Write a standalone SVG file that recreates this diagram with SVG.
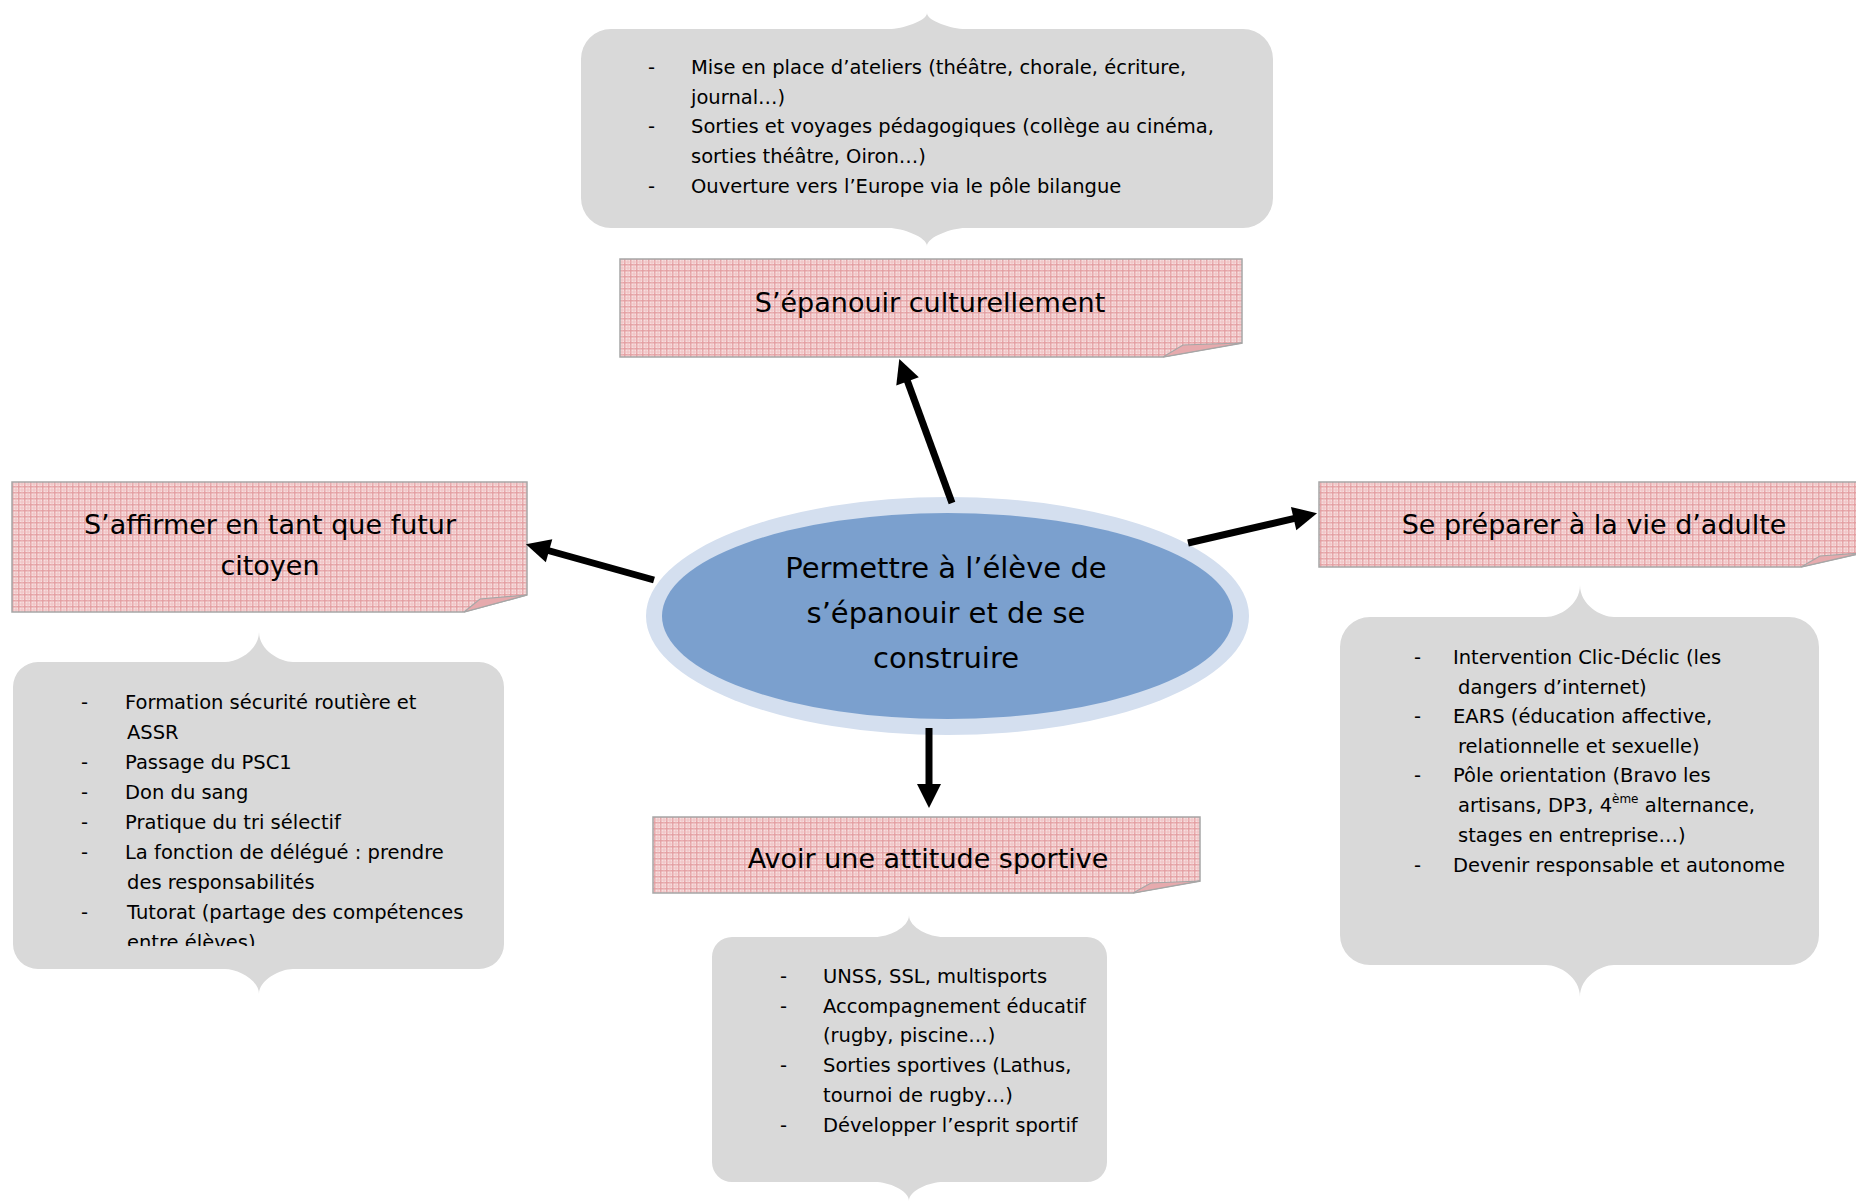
<svg xmlns="http://www.w3.org/2000/svg" width="1856" height="1201" viewBox="0 0 1856 1201">
<style>
.t{font-family:"DejaVu Sans",sans-serif;fill:#000}
.title{font-size:27px;text-anchor:middle}
.ctr{font-size:29px;text-anchor:middle}
.body{font-size:19.5px}
.callout{fill:#d9d9d9}
.note{fill:url(#pk);stroke:#a6a6a6;stroke-width:1.5}
.fold{fill:#e6aaad;stroke:#a6a6a6;stroke-width:1.2}
.conn{stroke:#000;stroke-width:7;fill:none;marker-end:url(#ah)}
</style>
<defs>
<pattern id="pk" width="6" height="6" patternUnits="userSpaceOnUse">
<rect width="6" height="6" fill="#f7dfdf"/>
<rect x="0" y="0" width="1.5" height="6" fill="#e39ca0" opacity="0.85"/>
<rect x="0" y="0" width="6" height="1.5" fill="#e39ca0" opacity="0.85"/>
<rect x="3.5" y="0" width="1" height="6" fill="#edb9bb" opacity="0.8"/>
<rect x="0" y="3.5" width="6" height="1" fill="#edb9bb" opacity="0.8"/>
</pattern>
<marker id="ah" viewBox="0 -12 24 24" markerUnits="userSpaceOnUse" markerWidth="24" markerHeight="24" refX="1" refY="0" orient="auto" overflow="visible">
<path d="M0,-12 L24,0 L0,12 Z" fill="#000"/>
</marker>
<clipPath id="clipL"><rect x="13" y="662" width="491" height="284"/></clipPath>
</defs>

<g id="callout-top">
<path class="callout" d="M611,29 L889,29 C902,29 927,21 927,13 C927,21 952,29 965,29 L1243,29 A30,30 0 0 1 1273,59 L1273,198 A30,30 0 0 1 1243,228 L965,228 C952,228 927,237 927,246 C927,237 902,228 889,228 L611,228 A30,30 0 0 1 581,198 L581,59 A30,30 0 0 1 611,29 Z"/>
<g class="t body">
<text x="648" y="74">-</text><text x="691" y="74">Mise en place d’ateliers (théâtre, chorale, écriture,</text>
<text x="691" y="104">journal…)</text>
<text x="648" y="133">-</text><text x="691" y="133">Sorties et voyages pédagogiques (collège au cinéma,</text>
<text x="691" y="163">sorties théâtre, Oiron…)</text>
<text x="648" y="193">-</text><text x="691" y="193">Ouverture vers l’Europe via le pôle bilangue</text>
</g>
</g>

<g id="node-culture">
<path class="note" d="M620,259 L1242,259 L1242,343 L1163,357 L620,357 Z"/>
<path class="fold" d="M1163,357 L1183,345 L1242,343 Z"/>
<text class="t title" x="930" y="312">S’épanouir culturellement</text>
</g>

<g id="node-citoyen">
<path class="note" d="M12,482 L527,482 L527,595 L464,612 L12,612 Z"/>
<path class="fold" d="M464,612 L480,599 L527,595 Z"/>
<text class="t title" x="270" y="534">S’affirmer en tant que futur</text>
<text class="t title" x="270" y="575">citoyen</text>
</g>

<g id="callout-left">
<path class="callout" d="M38,662 L225,662 C238,662 259,650 259,632 C259,650 280,662 293,662 L479,662 A25,25 0 0 1 504,687 L504,944 A25,25 0 0 1 479,969 L293,969 C280,969 259,980 259,994 C259,980 238,969 225,969 L38,969 A25,25 0 0 1 13,944 L13,687 A25,25 0 0 1 38,662 Z"/>
<g class="t body" clip-path="url(#clipL)">
<text x="81" y="709">-</text><text x="125" y="709">Formation sécurité routière et</text>
<text x="127" y="739">ASSR</text>
<text x="81" y="769">-</text><text x="125" y="769">Passage du PSC1</text>
<text x="81" y="799">-</text><text x="125" y="799">Don du sang</text>
<text x="81" y="829">-</text><text x="125" y="829">Pratique du tri sélectif</text>
<text x="81" y="859">-</text><text x="125" y="859">La fonction de délégué : prendre</text>
<text x="127" y="889">des responsabilités</text>
<text x="81" y="919">-</text><text x="127" y="919">Tutorat (partage des compétences</text>
<text x="127" y="949">entre élèves)</text>
</g>
</g>

<g id="node-adulte">
<path class="note" d="M1319,482 L1862,482 L1862,553 L1801,567 L1319,567 Z"/>
<path class="fold" d="M1801,567 L1820,556 L1862,553 Z"/>
<text class="t title" x="1594" y="534">Se préparer à la vie d’adulte</text>
</g>

<g id="callout-right">
<path class="callout" d="M1370,617 L1546,617 C1559,617 1580,605 1580,585 C1580,605 1601,617 1614,617 L1789,617 A30,30 0 0 1 1819,647 L1819,935 A30,30 0 0 1 1789,965 L1614,965 C1601,965 1580,977 1580,997 C1580,977 1559,965 1546,965 L1370,965 A30,30 0 0 1 1340,935 L1340,647 A30,30 0 0 1 1370,617 Z"/>
<g class="t body">
<text x="1414" y="664">-</text><text x="1453" y="664">Intervention Clic-Déclic (les</text>
<text x="1458" y="694">dangers d’internet)</text>
<text x="1414" y="723">-</text><text x="1453" y="723">EARS (éducation affective,</text>
<text x="1458" y="753">relationnelle et sexuelle)</text>
<text x="1414" y="782">-</text><text x="1453" y="782">Pôle orientation (Bravo les</text>
<text x="1458" y="812">artisans, DP3, 4<tspan font-size="12" dy="-9">ème</tspan><tspan dy="9"> alternance,</tspan></text>
<text x="1458" y="842">stages en entreprise…)</text>
<text x="1414" y="872">-</text><text x="1453" y="872">Devenir responsable et autonome</text>
</g>
</g>

<g id="node-sport">
<path class="note" d="M653,817 L1200,817 L1200,881 L1133,893 L653,893 Z"/>
<path class="fold" d="M1133,893 L1151,883 L1200,881 Z"/>
<text class="t title" x="928" y="868">Avoir une attitude sportive</text>
</g>

<g id="callout-bottom">
<path class="callout" d="M732,937 L875,937 C888,937 909,928 909,915 C909,928 930,937 943,937 L1087,937 A20,20 0 0 1 1107,957 L1107,1162 A20,20 0 0 1 1087,1182 L943,1182 C930,1182 909,1190 909,1201 C909,1190 888,1182 875,1182 L732,1182 A20,20 0 0 1 712,1162 L712,957 A20,20 0 0 1 732,937 Z"/>
<g class="t body">
<text x="780" y="983">-</text><text x="823" y="983">UNSS, SSL, multisports</text>
<text x="780" y="1013">-</text><text x="823" y="1013">Accompagnement éducatif</text>
<text x="823" y="1042">(rugby, piscine…)</text>
<text x="780" y="1072">-</text><text x="823" y="1072">Sorties sportives (Lathus,</text>
<text x="823" y="1102">tournoi de rugby…)</text>
<text x="780" y="1132">-</text><text x="823" y="1132">Développer l’esprit sportif</text>
</g>
</g>

<g id="node-center">
<ellipse cx="947.5" cy="616" rx="301.5" ry="119" fill="#d4dfef"/>
<ellipse cx="947.5" cy="616" rx="285.5" ry="103" fill="#7ba0ce"/>
<text class="t ctr" x="946" y="578">Permettre à l’élève de</text>
<text class="t ctr" x="946" y="623">s’épanouir et de se</text>
<text class="t ctr" x="946" y="668">construire</text>
</g>

<g id="connectors">
<line class="conn" x1="952" y1="503" x2="907.2" y2="380.5"/>
<line class="conn" x1="654" y1="580" x2="548.1" y2="550.5"/>
<line class="conn" x1="1188" y1="543" x2="1294.6" y2="518.4"/>
<line class="conn" x1="929" y1="728" x2="929" y2="785"/>
</g>
</svg>
